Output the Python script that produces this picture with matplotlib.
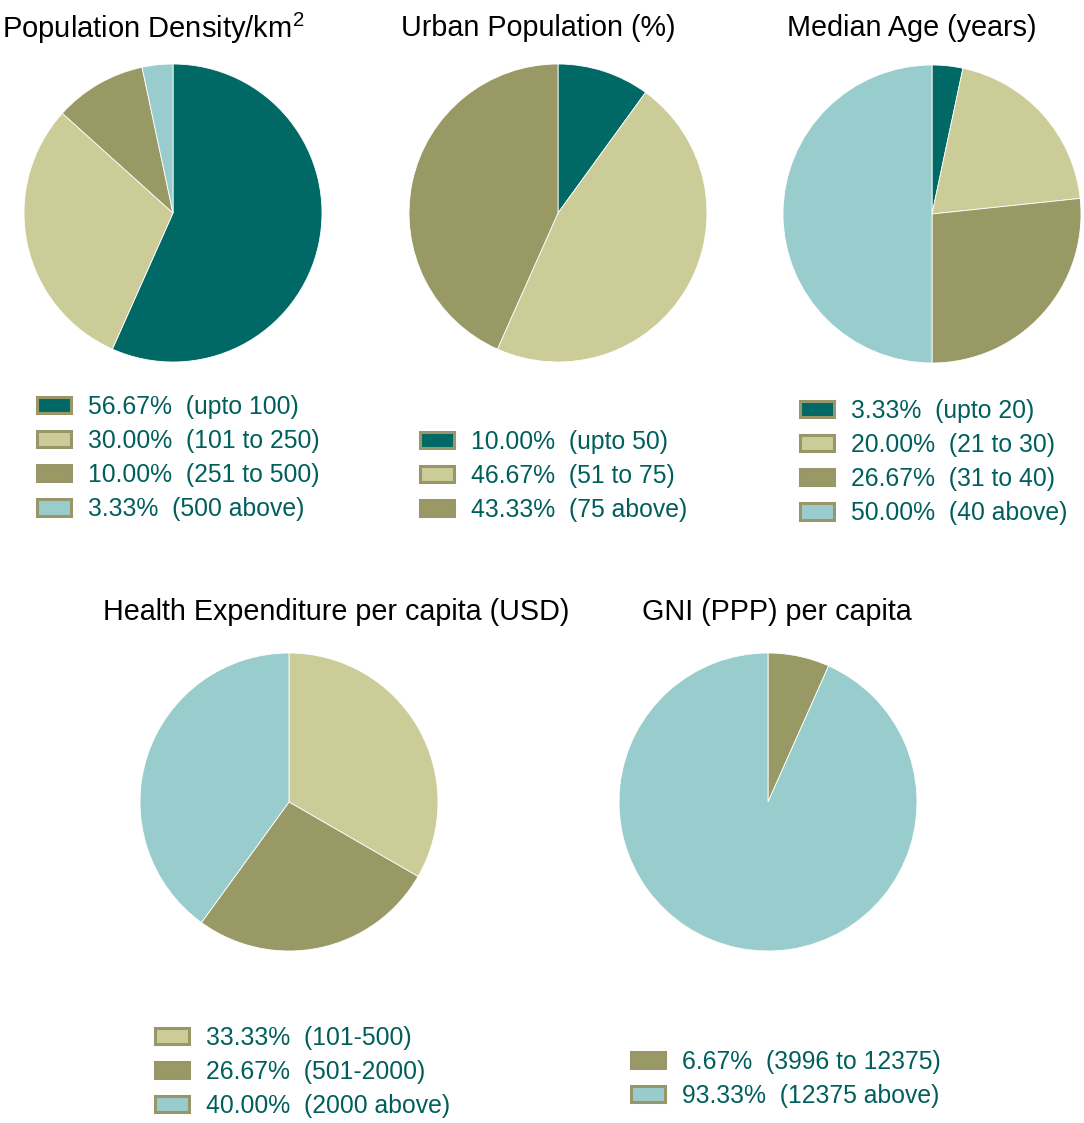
import matplotlib
matplotlib.use("Agg")
import matplotlib.pyplot as plt
from matplotlib.patches import Patch

plt.rcParams['font.family'] = ['Liberation Sans', 'DejaVu Sans']
plt.rcParams['mathtext.fontset'] = 'custom'
plt.rcParams['mathtext.rm'] = 'Liberation Sans'

# ------ DATA -------
TEAL, KHAKI, OLIVE, LBLUE = '#006966', '#CCCC99', '#999966', '#99CCCC'
EDGE = '#99966A'
TXT = '#005F5C'

titles = ['Population Density/km$^2$', 'Urban Population (%)', 'Median Age (years)',
          'Health Expenditure per capita (USD)', 'GNI (PPP) per capita']

density_vals = [56.67, 30.00, 10.00, 3.33]
density_cats = ['upto 100', '101 to 250', '251 to 500', '500 above']

urban_vals = [10.00, 46.67, 43.33]
urban_cats = ['upto 50', '51 to 75', '75 above']

age_vals = [3.33, 20.00, 26.67, 50.00]
age_cats = ['upto 20', '21 to 30', '31 to 40', '40 above']

health_vals = [33.33, 26.67, 40.00]
health_cats = ['101-500', '501-2000', '2000 above']

gni_vals = [6.67, 93.33]
gni_cats = ['3996 to 12375', '12375 above']

series = [
    (density_vals, density_cats, [TEAL, KHAKI, OLIVE, LBLUE]),
    (urban_vals, urban_cats, [TEAL, KHAKI, OLIVE]),
    (age_vals, age_cats, [TEAL, KHAKI, OLIVE, LBLUE]),
    (health_vals, health_cats, [KHAKI, OLIVE, LBLUE]),
    (gni_vals, gni_cats, [OLIVE, LBLUE]),
]

# layout in pixels: pie centre, title centre, legend left / middle
W, H = 1084, 1123
R = 149
pie_centres = [(173, 213), (558, 213), (932, 214), (289, 802), (768, 802)]
title_pos = [(153, 28), (538, 28), (912, 28), (336, 612), (777, 612)]
title_size = [21, 20.7, 20.7, 20.7, 20.7]
legend_pos = [(37, 458), (420, 476), (800, 462), (155, 1072), (631, 1079)]

fig = plt.figure(figsize=(W / 100, H / 100), dpi=100)

for i, (vals, cats, cols) in enumerate(series):
    cx, cy = pie_centres[i]
    ax = fig.add_axes([(cx - R) / W, (H - cy - R) / H, 2 * R / W, 2 * R / H])
    ax.pie(vals, colors=cols, startangle=90, counterclock=False,
           wedgeprops=dict(edgecolor='white', linewidth=0.6))
    ax.set_xlim(-1, 1)
    ax.set_ylim(-1, 1)
    ax.axis('off')

    tx, ty = title_pos[i]
    fig.text(tx / W, 1 - ty / H, titles[i], ha='center', va='center',
             fontsize=title_size[i], color='black')

    handles = [Patch(facecolor=c, edgecolor=EDGE, linewidth=2.2) for c in cols]
    labels = ['%.2f%%  (%s)' % (v, c) for v, c in zip(vals, cats)]
    lx, ly = legend_pos[i]
    leg = fig.legend(handles, labels, loc='center left',
                     bbox_to_anchor=(lx / W, 1 - ly / H), frameon=False,
                     fontsize=17.8, borderpad=0, borderaxespad=0,
                     handlelength=1.38, handleheight=0.62, handletextpad=0.68,
                     labelspacing=0.41)
    for t in leg.get_texts():
        t.set_color(TXT)

fig.savefig('out.png', dpi=100)
